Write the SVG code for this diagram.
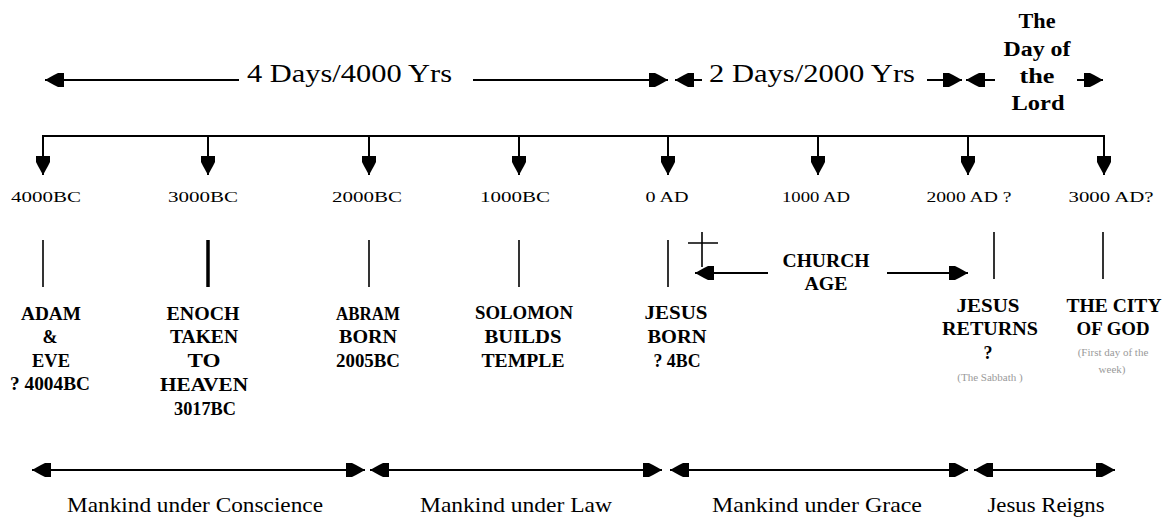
<svg xmlns="http://www.w3.org/2000/svg" width="1169" height="519" viewBox="0 0 1169 519">
<style>
text{font-family:"Liberation Serif","Times New Roman",serif;fill:#000;text-anchor:middle}
.big{font-size:25px;text-anchor:start}
.lord{font-size:20px;font-weight:bold}
.date{font-size:15px}
.lab{font-size:18px;font-weight:bold}
.note{font-size:11px;fill:#9a9a9a}
.era{font-size:21px}
.ln{stroke:#000;stroke-width:2;fill:none}
.tk{stroke:#000;stroke-width:1.6;fill:none}
</style>
<defs>
<marker id="ah" viewBox="-21 -9 22 18" refX="0" refY="0" markerWidth="22" markerHeight="18" markerUnits="userSpaceOnUse" orient="auto-start-reverse">
<path d="M0,0 L-9,-5 L-13,-7 L-19,-7 L-19,7 L-13,7 L-9,5 Z" fill="#000"/>
</marker>
</defs>
<rect width="1169" height="519" fill="#fff"/>
<g id="connectors">
<path class="ln" d="M239,80 H45" marker-end="url(#ah)"/>
<path class="ln" d="M473,80 H668" marker-end="url(#ah)"/>
<path class="ln" d="M702,80 H675" marker-end="url(#ah)"/>
<path class="ln" d="M927,80 H962" marker-end="url(#ah)"/>
<path class="ln" d="M995,80 H966" marker-end="url(#ah)"/>
<path class="ln" d="M1077,80 H1103" marker-end="url(#ah)"/>
<path class="ln" d="M43,175 V136 H1104 V175" marker-start="url(#ah)" marker-end="url(#ah)"/>
<path class="ln" d="M208,136 V175" marker-end="url(#ah)"/>
<path class="ln" d="M369,136 V175" marker-end="url(#ah)"/>
<path class="ln" d="M519,136 V175" marker-end="url(#ah)"/>
<path class="ln" d="M668,136 V175" marker-end="url(#ah)"/>
<path class="ln" d="M818,136 V175" marker-end="url(#ah)"/>
<path class="ln" d="M968,136 V175" marker-end="url(#ah)"/>
<path class="tk" d="M43,240 V287"/>
<path class="ln" d="M208,240 V287" style="stroke-width:3.5"/>
<path class="tk" d="M369,240 V287"/>
<path class="tk" d="M519,240 V287"/>
<path class="tk" d="M668,240 V287"/>
<path class="tk" d="M994,232 V279"/>
<path class="tk" d="M1103,232 V279"/>
<path class="ln" d="M768,273 H695" marker-end="url(#ah)"/>
<path class="ln" d="M887,273 H968" marker-end="url(#ah)"/>
<path class="ln" d="M32,470 H365" marker-start="url(#ah)" marker-end="url(#ah)"/>
<path class="ln" d="M370,470 H662" marker-start="url(#ah)" marker-end="url(#ah)"/>
<path class="ln" d="M670,470 H968" marker-start="url(#ah)" marker-end="url(#ah)"/>
<path class="ln" d="M974,470 H1115" marker-start="url(#ah)" marker-end="url(#ah)"/>
</g>
<g id="cross"><path class="tk" d="M702,232 V267 M688,243 H718"/></g>
<g id="four-days"><text class="big" x="247" y="82" textLength="205" lengthAdjust="spacingAndGlyphs">4 Days/4000 Yrs</text></g>
<g id="two-days"><text class="big" x="709" y="82" textLength="206" lengthAdjust="spacingAndGlyphs">2 Days/2000 Yrs</text></g>
<g id="day-of-lord">
<text class="lord" x="1037" y="28" textLength="37" lengthAdjust="spacingAndGlyphs">The</text>
<text class="lord" x="1037" y="56" textLength="67" lengthAdjust="spacingAndGlyphs">Day of</text>
<text class="lord" x="1037" y="83" textLength="35" lengthAdjust="spacingAndGlyphs">the</text>
<text class="lord" x="1038" y="110" textLength="53" lengthAdjust="spacingAndGlyphs">Lord</text>
</g>
<g id="dates">
<text class="date" x="46" y="202" textLength="70" lengthAdjust="spacingAndGlyphs">4000BC</text>
<text class="date" x="203" y="202" textLength="70" lengthAdjust="spacingAndGlyphs">3000BC</text>
<text class="date" x="367" y="202" textLength="70" lengthAdjust="spacingAndGlyphs">2000BC</text>
<text class="date" x="515" y="202" textLength="70" lengthAdjust="spacingAndGlyphs">1000BC</text>
<text class="date" x="667" y="202" textLength="43" lengthAdjust="spacingAndGlyphs">0 AD</text>
<text class="date" x="816" y="202" textLength="68" lengthAdjust="spacingAndGlyphs">1000 AD</text>
<text class="date" x="969" y="202" textLength="85" lengthAdjust="spacingAndGlyphs">2000 AD ?</text>
<text class="date" x="1111" y="202" textLength="85" lengthAdjust="spacingAndGlyphs">3000 AD?</text>
</g>
<g id="adam-eve">
<text class="lab" x="51" y="320" textLength="60" lengthAdjust="spacingAndGlyphs">ADAM</text>
<text class="lab" x="50" y="343">&amp;</text>
<text class="lab" x="51" y="367" textLength="38" lengthAdjust="spacingAndGlyphs">EVE</text>
<text class="lab" x="50" y="390" textLength="80" lengthAdjust="spacingAndGlyphs">? 4004BC</text>
</g>
<g id="enoch">
<text class="lab" x="203" y="320" textLength="73" lengthAdjust="spacingAndGlyphs">ENOCH</text>
<text class="lab" x="204" y="343" textLength="68" lengthAdjust="spacingAndGlyphs">TAKEN</text>
<text class="lab" x="204" y="367" textLength="33" lengthAdjust="spacingAndGlyphs">TO</text>
<text class="lab" x="204" y="391" textLength="88" lengthAdjust="spacingAndGlyphs">HEAVEN</text>
<text class="lab" x="205" y="415" textLength="62" lengthAdjust="spacingAndGlyphs">3017BC</text>
</g>
<g id="abram">
<text class="lab" x="368" y="320" textLength="64" lengthAdjust="spacingAndGlyphs">ABRAM</text>
<text class="lab" x="368" y="343" textLength="58" lengthAdjust="spacingAndGlyphs">BORN</text>
<text class="lab" x="368" y="367" textLength="64" lengthAdjust="spacingAndGlyphs">2005BC</text>
</g>
<g id="solomon">
<text class="lab" x="524" y="319" textLength="98" lengthAdjust="spacingAndGlyphs">SOLOMON</text>
<text class="lab" x="523" y="343" textLength="77" lengthAdjust="spacingAndGlyphs">BUILDS</text>
<text class="lab" x="523" y="367" textLength="83" lengthAdjust="spacingAndGlyphs">TEMPLE</text>
</g>
<g id="jesus-born">
<text class="lab" x="676" y="319" textLength="63" lengthAdjust="spacingAndGlyphs">JESUS</text>
<text class="lab" x="677" y="343" textLength="59" lengthAdjust="spacingAndGlyphs">BORN</text>
<text class="lab" x="677" y="367" textLength="47" lengthAdjust="spacingAndGlyphs">? 4BC</text>
</g>
<g id="church-age">
<text class="lab" x="826" y="267" textLength="87" lengthAdjust="spacingAndGlyphs">CHURCH</text>
<text class="lab" x="826" y="290" textLength="43" lengthAdjust="spacingAndGlyphs">AGE</text>
</g>
<g id="jesus-returns">
<text class="lab" x="988" y="312" textLength="63" lengthAdjust="spacingAndGlyphs">JESUS</text>
<text class="lab" x="990" y="335" textLength="96" lengthAdjust="spacingAndGlyphs">RETURNS</text>
<text class="lab" x="988" y="359">?</text>
<text class="note" x="990" y="381">(The Sabbath )</text>
</g>
<g id="city-of-god">
<text class="lab" x="1114" y="312" textLength="95" lengthAdjust="spacingAndGlyphs">THE CITY</text>
<text class="lab" x="1113" y="335" textLength="73" lengthAdjust="spacingAndGlyphs">OF GOD</text>
<text class="note" x="1113" y="356">(First day of the</text>
<text class="note" x="1112" y="373">week)</text>
</g>
<g id="eras">
<text class="era" x="195" y="512" textLength="256" lengthAdjust="spacingAndGlyphs">Mankind under Conscience</text>
<text class="era" x="516" y="512" textLength="192" lengthAdjust="spacingAndGlyphs">Mankind under Law</text>
<text class="era" x="817" y="512" textLength="210" lengthAdjust="spacingAndGlyphs">Mankind under Grace</text>
<text class="era" x="1046" y="512" textLength="117" lengthAdjust="spacingAndGlyphs">Jesus Reigns</text>
</g>
</svg>
